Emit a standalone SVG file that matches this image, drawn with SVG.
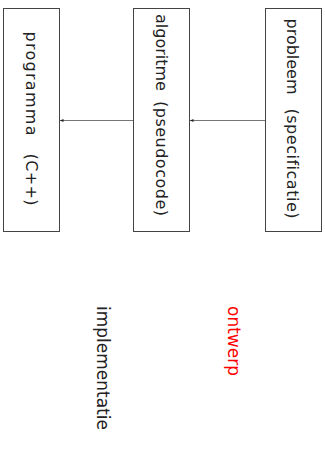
<svg xmlns="http://www.w3.org/2000/svg" width="325" height="450" viewBox="0 0 325 450">
<style>
.box{fill:#fff;stroke:#444;stroke-width:1}
.t{font-family:"DejaVu Sans",sans-serif;font-size:16px;fill:#222;font-variant-ligatures:none}
.lbl{font-family:"DejaVu Sans",sans-serif;font-size:17px;font-variant-ligatures:none}
.edge{stroke:#777;stroke-width:1;fill:none}
</style>
<defs>
<marker id="ah" markerWidth="4" markerHeight="4" refX="3.5" refY="2" orient="auto" markerUnits="userSpaceOnUse">
<path d="M0,0.5 L3.5,2 L0,3.5 Z" fill="#222"/>
</marker>
</defs>
<rect width="325" height="450" fill="#fff"/>
<g id="connectors">
<line class="edge" x1="265" y1="120.5" x2="190" y2="120.5" marker-end="url(#ah)"/>
<line class="edge" x1="133" y1="120.5" x2="60" y2="120.5" marker-end="url(#ah)"/>
</g>
<g id="probleem">
<rect class="box" x="265.5" y="8.5" width="56" height="223"/>
<text class="t" transform="translate(287,0) rotate(90)"><tspan x="18.5">probleem</tspan><tspan x="108.5" textLength="110" lengthAdjust="spacing">(specificatie)</tspan></text>
</g>
<g id="algoritme">
<rect class="box" x="133.5" y="8.5" width="56" height="223"/>
<text class="t" transform="translate(156,0) rotate(90)"><tspan x="14">algoritme</tspan><tspan x="101" textLength="115" lengthAdjust="spacing">(pseudocode)</tspan></text>
</g>
<g id="programma">
<rect class="box" x="3.5" y="8.5" width="56" height="223"/>
<text class="t" transform="translate(26,0) rotate(90)"><tspan x="31.5" textLength="104" lengthAdjust="spacing">programma</tspan><tspan x="153.5" textLength="52" lengthAdjust="spacing">(C++)</tspan></text>
</g>
<g id="ontwerp">
<text class="lbl" fill="#ff0000" transform="translate(228,0) rotate(90)" x="306">ontwerp</text>
</g>
<g id="implementatie">
<text class="lbl" fill="#222" transform="translate(97,0) rotate(90)" x="306">implementatie</text>
</g>
</svg>
